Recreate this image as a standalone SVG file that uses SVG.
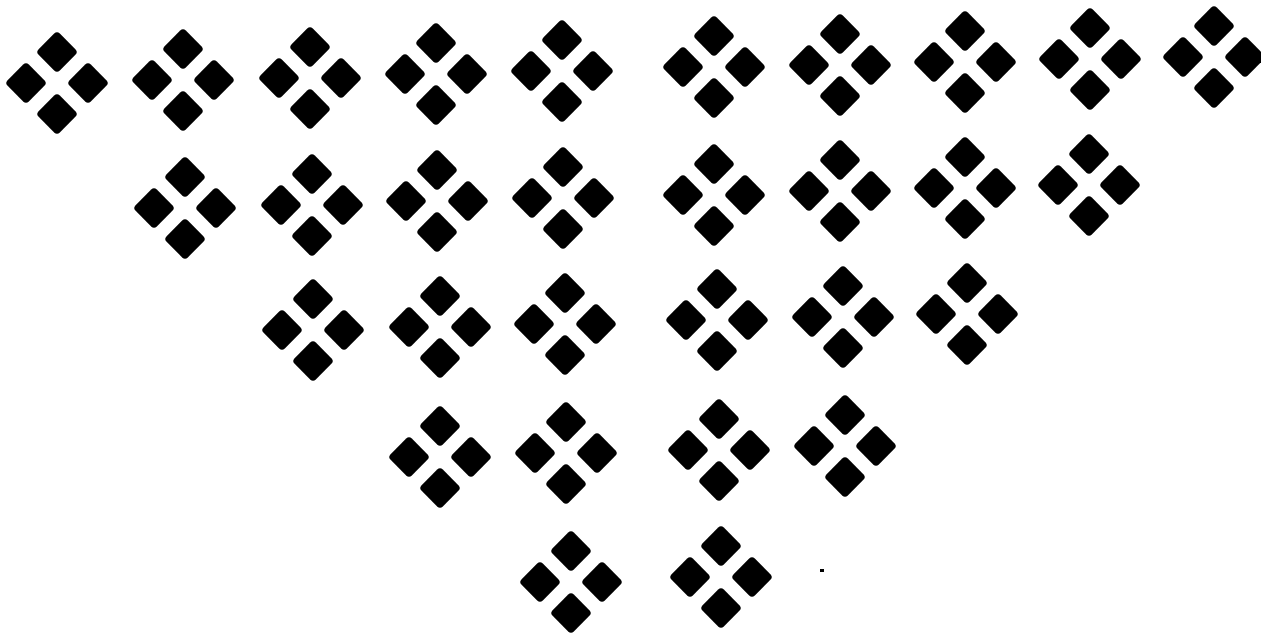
<svg xmlns="http://www.w3.org/2000/svg" xmlns:xlink="http://www.w3.org/1999/xlink" width="1261" height="637" viewBox="0 0 1261 637">
<defs>
<style>.ink{fill:#000;}</style>
<rect id="d" class="ink" x="-15" y="-15" width="30" height="30" rx="4" transform="rotate(45)"/>
<g id="orn">
<use href="#d" x="0" y="-31"/>
<use href="#d" x="-31" y="0"/>
<use href="#d" x="31" y="0"/>
<use href="#d" x="0" y="31"/>
</g>
</defs>
<rect width="1261" height="637" fill="#fff"/>
<g id="row1">
<g id="o1-1"><use href="#orn" transform="translate(57,83)"/></g>
<g id="o1-2"><use href="#orn" transform="translate(183,80)"/></g>
<g id="o1-3"><use href="#orn" transform="translate(310,78)"/></g>
<g id="o1-4"><use href="#orn" transform="translate(436,74)"/></g>
<g id="o1-5"><use href="#orn" transform="translate(562,71)"/></g>
<g id="o1-6"><use href="#orn" transform="translate(714,67)"/></g>
<g id="o1-7"><use href="#orn" transform="translate(840,65)"/></g>
<g id="o1-8"><use href="#orn" transform="translate(965,62)"/></g>
<g id="o1-9"><use href="#orn" transform="translate(1090,59)"/></g>
<g id="o1-10"><use href="#orn" transform="translate(1214,57)"/></g>
</g>
<g id="row2">
<g id="o2-1"><use href="#orn" transform="translate(185,208)"/></g>
<g id="o2-2"><use href="#orn" transform="translate(312,205)"/></g>
<g id="o2-3"><use href="#orn" transform="translate(437,201)"/></g>
<g id="o2-4"><use href="#orn" transform="translate(563,198)"/></g>
<g id="o2-5"><use href="#orn" transform="translate(714,195)"/></g>
<g id="o2-6"><use href="#orn" transform="translate(840,191)"/></g>
<g id="o2-7"><use href="#orn" transform="translate(965,188)"/></g>
<g id="o2-8"><use href="#orn" transform="translate(1089,185)"/></g>
</g>
<g id="row3">
<g id="o3-1"><use href="#orn" transform="translate(313,330)"/></g>
<g id="o3-2"><use href="#orn" transform="translate(440,327)"/></g>
<g id="o3-3"><use href="#orn" transform="translate(565,324)"/></g>
<g id="o3-4"><use href="#orn" transform="translate(717,320)"/></g>
<g id="o3-5"><use href="#orn" transform="translate(843,317)"/></g>
<g id="o3-6"><use href="#orn" transform="translate(967,314)"/></g>
</g>
<g id="row4">
<g id="o4-1"><use href="#orn" transform="translate(440,457)"/></g>
<g id="o4-2"><use href="#orn" transform="translate(566,453)"/></g>
<g id="o4-3"><use href="#orn" transform="translate(719,450)"/></g>
<g id="o4-4"><use href="#orn" transform="translate(845,446)"/></g>
</g>
<g id="row5">
<g id="o5-1"><use href="#orn" transform="translate(571,582)"/></g>
<g id="o5-2"><use href="#orn" transform="translate(721,577)"/></g>
</g>
<rect id="speck" class="ink" x="820" y="569" width="4" height="3"/>
</svg>
